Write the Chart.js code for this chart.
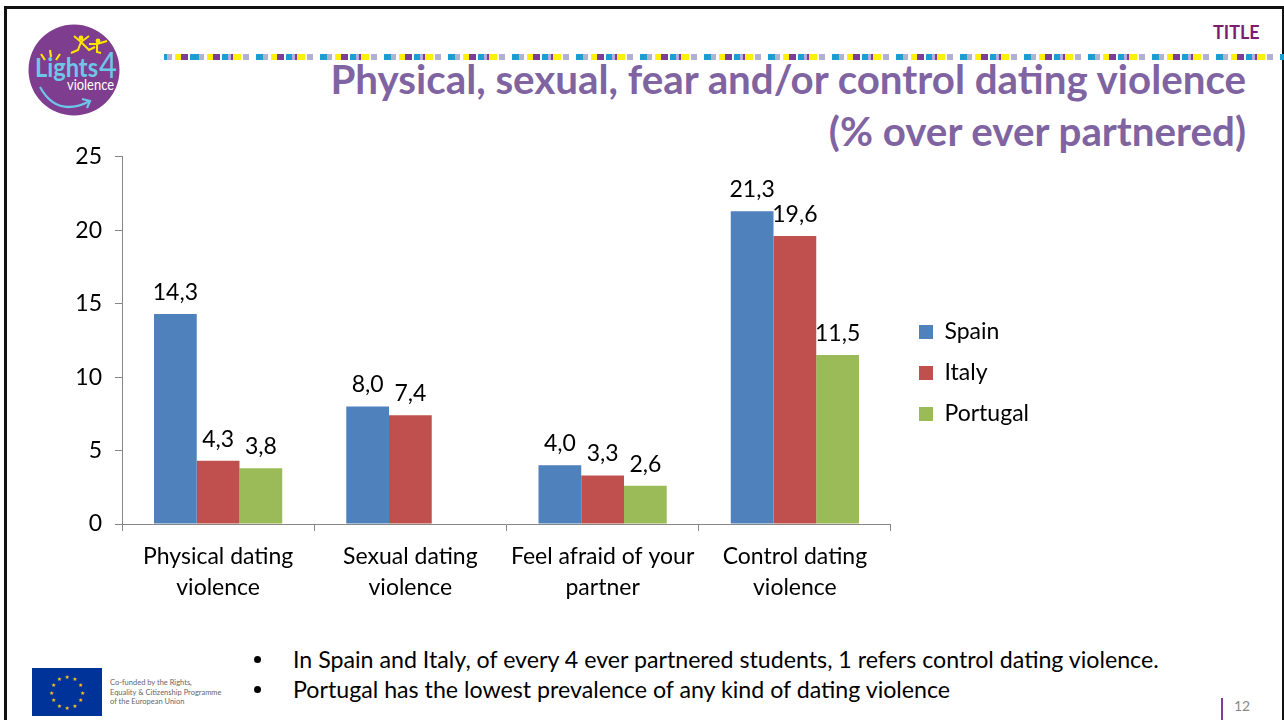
<!DOCTYPE html>
<html>
<head>
<meta charset="utf-8">
<title>Dating violence</title>
<script src="https://cdn.jsdelivr.net/npm/chart.js"></script>
<style>
html, body { margin: 0; padding: 0; background: #fff; }
body { width: 1284px; height: 720px; overflow: hidden; position: relative; font-family: Lato, sans-serif; color: #000; }
#frame { position: absolute; left: 4px; top: 6px; width: 1275px; height: 720px; border: 3px solid #111; border-bottom: 0; }
#strip { position: absolute; left: 164px; top: 54px; width: 1120px; height: 6px;
  background: repeating-linear-gradient(90deg, #1a9fd0 0 7px, #b3b0d6 7px 12px, #fff 12px 15px, #fff200 15px 21px, #7b3f98 21px 28px, #fff 28px 30px, #1a9fd0 30px 36px, #b3b0d6 36px 39px, #7b3f98 39px 41px, #fff200 41px 49px, #fff 49px 51px, #b3b0d6 51px 57px, #fff 57px 64px);
  background-position: 28px 0; }
.title { position: absolute; right: 38px; color: #8064a2; font-weight: 700; font-size: 40.3px; white-space: nowrap; line-height: 44px; }
#tag { position: absolute; left: 1213px; top: 22px; color: #7b1e73; font-weight: 700; font-size: 18px; line-height: 20px; }
#chart { position: absolute; left: 0; top: 130px; }
.note { position: absolute; left: 293px; font-size: 23.2px; line-height: 26px; white-space: nowrap; }
.dot { position: absolute; left: 254px; width: 7px; height: 7px; border-radius: 50%; background: #000; }
#eu { position: absolute; left: 110px; top: 678px; font-size: 7.5px; line-height: 9.7px; color: #666; white-space: nowrap; }
#pagebar { position: absolute; left: 1221px; top: 698px; width: 2px; height: 22px; background: #7b3f98; }
#page { position: absolute; left: 1234px; top: 697px; font-size: 14px; line-height: 18px; color: #898989; }
svg { position: absolute; }
</style>
</head>
<body>
<div id="frame"></div>
<div id="strip"></div>
<svg style="left:25px;top:20px" width="100" height="100" viewBox="0 0 100 100">
  <circle cx="49" cy="50" r="45.5" fill="#7e3d8e"/>
  <text x="10" y="57" font-family="Lato" font-weight="700" font-size="27" textLength="63" lengthAdjust="spacingAndGlyphs" fill="#6ec6e8">Lights</text>
  <text x="74" y="58" font-family="Lato" font-size="37" textLength="18" lengthAdjust="spacingAndGlyphs" fill="#6ec6e8">4</text>
  <text x="42" y="70" font-family="Lato" font-size="14.5" textLength="47" lengthAdjust="spacingAndGlyphs" fill="#fff">violence</text>
  <path d="M15 67 Q32 98 65 81" fill="none" stroke="#6ec6e8" stroke-width="2.2"/>
  <path d="M57 79 L65 81 L62 88" fill="none" stroke="#6ec6e8" stroke-width="2.2"/>
  <circle cx="56" cy="18" r="2.4" fill="#ffe600"/>
  <circle cx="73" cy="21" r="2.4" fill="#ffe600"/>
  <path d="M49 16 L56 22 L64 16 M56 22 L53 30 L46 33 M56 22 L64 30 L70 27 M64 24 L72 24 L82 21 M72 24 L72 32 L76 33" fill="none" stroke="#ffe600" stroke-width="2"/>
  <path d="M20 40 L16 34 M26 37 L25 30 M31 40 L35 34" fill="none" stroke="#ffe600" stroke-width="2.2"/>
</svg>
<div class="title" style="top:57px">Physical, sexual, fear and/or control dating violence</div>
<div class="title" style="top:109px">(% over ever partnered)</div>
<div id="tag">TITLE</div>
<canvas id="chart" width="1029" height="486"></canvas>
<div class="dot" style="top:656px"></div>
<div class="note" style="top:646px">In Spain and Italy, of every 4 ever partnered students, 1 refers control dating violence.</div>
<div class="dot" style="top:686px"></div>
<div class="note" style="top:676px">Portugal has the lowest prevalence of any kind of dating violence</div>
<svg id="flag" style="left:32px;top:668px" width="70" height="48" viewBox="0 0 70 48">
  <rect width="70" height="48" fill="#003399"/>
</svg>
<div id="eu">Co-funded by the Rights,<br>Equality &amp; Citizenship Programme<br>of the European Union</div>
<div id="pagebar"></div>
<div id="page">12</div>
<script>
var categories = [['Physical dating', 'violence'], ['Sexual dating', 'violence'], ['Feel afraid of your', 'partner'], ['Control dating', 'violence']];
var spain = [14.3, 8.0, 4.0, 21.3];
var italy = [4.3, 7.4, 3.3, 19.6];
var portugal = [3.8, null, 2.6, 11.5];
var axisColor = '#868686';
var fontName = 'Lato';

// stars of the flag, just decoration
var flag = document.getElementById('flag');
for (var i = 0; i < 12; i++) {
  var a = i * Math.PI / 6;
  var star = document.createElementNS('http://www.w3.org/2000/svg', 'text');
  star.setAttribute('x', 35 + 15.5 * Math.sin(a));
  star.setAttribute('y', 26.5 - 15.5 * Math.cos(a));
  star.setAttribute('font-size', '5.5');
  star.setAttribute('font-family', 'DejaVu Sans');
  star.setAttribute('text-anchor', 'middle');
  star.setAttribute('fill', '#ffcc00');
  star.textContent = '\u2605';
  flag.appendChild(star);
}

var valueLabels = {
  id: 'valueLabels',
  // push the legend away from the plot, labels.padding also sets the row gap
  afterLayout: function (chart) {
    chart.legend.left += 10;
  },
  afterDatasetsDraw: function (chart) {
    var c = chart.ctx;
    c.save();
    c.font = '23px ' + fontName;
    c.fillStyle = '#000';
    c.textAlign = 'center';
    c.textBaseline = 'bottom';
    chart.data.datasets.forEach(function (ds, d) {
      chart.getDatasetMeta(d).data.forEach(function (bar, n) {
        if (ds.data[n] === null) return;
        c.fillText(ds.data[n].toFixed(1).replace('.', ','), bar.x, bar.y - 10);
      });
    });
    c.restore();
  }
};

new Chart(document.getElementById('chart'), {
  type: 'bar',
  data: {
    labels: categories,
    datasets: [
      { label: 'Spain', data: spain, backgroundColor: '#4f81bd' },
      { label: 'Italy', data: italy, backgroundColor: '#c0504d' },
      { label: 'Portugal', data: portugal, backgroundColor: '#9bbb59' }
    ]
  },
  options: {
    responsive: false,
    animation: false,
    datasets: { bar: { categoryPercentage: 0.667, barPercentage: 1 } },
    plugins: {
      tooltip: { enabled: false },
      legend: {
        position: 'right',
        labels: {
          boxWidth: 14,
          boxHeight: 14,
          padding: 18,
          color: '#000',
          font: { family: fontName, size: 23 }
        }
      }
    },
    scales: {
      x: {
        afterFit: function (s) { s.height = 92; },
        border: { color: axisColor },
        grid: { drawOnChartArea: false, color: axisColor, tickLength: 7 },
        ticks: { color: '#000', maxRotation: 0, autoSkip: false, padding: 10, font: { family: fontName, size: 23, lineHeight: 1.35 } }
      },
      y: {
        min: 0,
        max: 25,
        afterFit: function (s) { s.width = 122; },
        border: { color: axisColor },
        grid: { drawOnChartArea: false, color: axisColor, tickLength: 7 },
        ticks: { stepSize: 5, color: '#000', padding: 13, font: { family: fontName, size: 23 } }
      }
    }
  },
  plugins: [valueLabels]
});
</script>
</body>
</html>
